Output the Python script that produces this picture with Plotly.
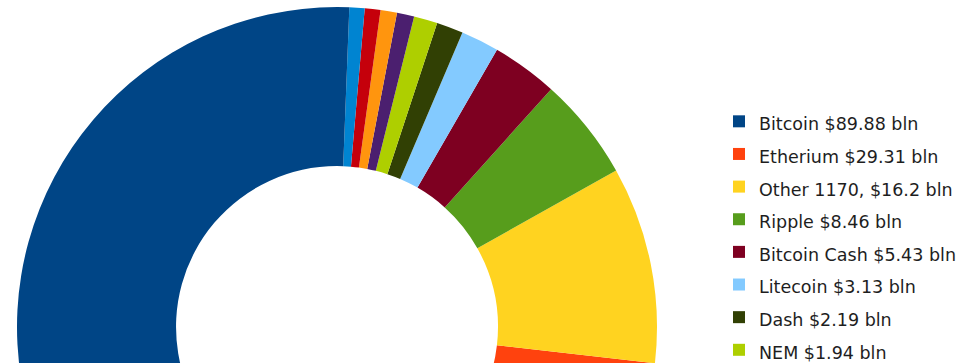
import plotly.graph_objects as go

coins = ["Bitcoin", "Etherium", "Other 1170,", "Ripple", "Bitcoin Cash", "Litecoin",
         "Dash", "NEM", "NEO", "IOTA", "Monero", "Ethereum Classic", "OmiseGO"]
caps_bln = [89.88, 29.31, 16.2, 8.46, 5.43, 3.13, 2.19, 1.94, 1.42, 1.35, 1.29, 1.25, 1.0]
colors = ["#004586", "#ff420e", "#ffd320", "#579d1c", "#7e0021", "#83caff",
          "#314004", "#aecf00", "#4b1f6f", "#ff950e", "#c5000b", "#0084d1", "#004586"]

labels = [f"<span style='font-size:17.5px'>{c} ${v:g} bln</span>" for c, v in zip(coins, caps_bln)]

W, H = 972, 654
cx, cy, R = 337, 327, 320

# Plotly 'counterclockwise' puts the first slice clockwise of the start angle;
# rotate so that Bitcoin ends at 12 o'clock and the rest run counterclockwise.
first_angle = caps_bln[0] / sum(caps_bln) * 360

fig = go.Figure(go.Pie(
    labels=labels,
    values=caps_bln,
    sort=False,
    direction="counterclockwise",
    rotation=-first_angle,
    hole=0.503,
    textinfo="none",
    hoverinfo="label+value",
    marker=dict(colors=colors, line=dict(width=0)),
    domain=dict(x=[(cx - R) / W, (cx + R) / W], y=[(H - cy - R) / H, (H - cy + R) / H]),
))

fig.update_layout(
    width=W, height=H,
    margin=dict(l=0, r=0, t=0, b=0, autoexpand=False),
    paper_bgcolor="white",
    plot_bgcolor="white",
    showlegend=True,
    legend=dict(
        x=719 / W, y=1 - 100 / H, xanchor="left", yanchor="top",
        font=dict(family="DejaVu Sans, Liberation Sans, sans-serif", size=22.8, color="#1e1e1e"),
        bgcolor="rgba(0,0,0,0)",
    ),
)

fig.write_html("out.html", post_script="document.body.style.margin='0';document.body.style.overflow='hidden';document.documentElement.style.overflow='hidden';")
